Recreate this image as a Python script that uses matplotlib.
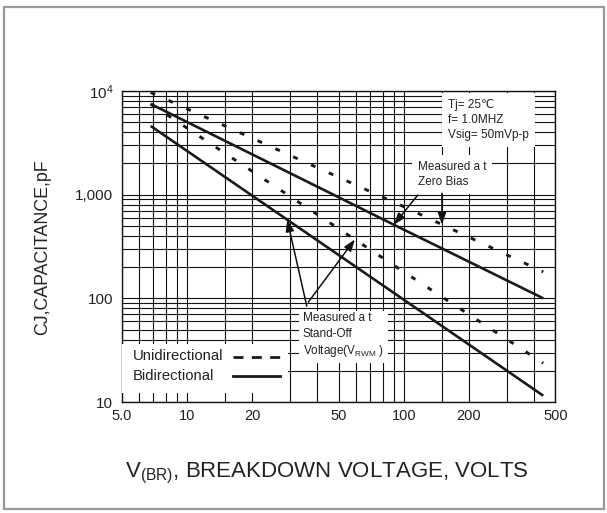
import numpy as np
import matplotlib
matplotlib.use("Agg")
import matplotlib.pyplot as plt
from matplotlib.lines import Line2D
from matplotlib.patches import Rectangle
from matplotlib.ticker import FixedLocator, FixedFormatter, NullFormatter

plt.rcParams['font.family'] = ['Liberation Sans', 'DejaVu Sans']
plt.rcParams['mathtext.fontset'] = 'custom'
plt.rcParams['mathtext.rm'] = 'Liberation Sans'
plt.rcParams['mathtext.default'] = 'regular'

# breakdown voltage (V) and capacitance (pF)
vbr = [6.8, 100, 440]
uni_zero = [9700, 766, 180]       # unidirectional, zero bias
uni_standoff = [7500, 180, 23.7]  # unidirectional, stand-off voltage
bi_zero = [7500, 460, 100]        # bidirectional, zero bias
bi_standoff = [4600, 97, 11.5]    # bidirectional, stand-off voltage

x_ticks = [5, 10, 20, 50, 100, 200, 500]
x_tick_labels = ['5.0', '10', '20', '50', '100', '200', '500']
x_minor = [6, 7, 8, 9, 15, 30, 40, 60, 70, 80, 90, 150, 300, 400]
y_ticks = [10, 100, 1000, 10000]
y_tick_labels = ['10', '100', '1,000', '$10^4$']
legend_labels = ['Unidirectional', 'Bidirectional']

fig = plt.figure(figsize=(6.07, 5.13), dpi=100)
ax = fig.add_axes([121.7 / 607, 1 - 402 / 513, 433.6 / 607, 311 / 513])

lw = 1.9
dash = (1.7, 5.0)
ink = '#1a1a1a'
ax.plot(vbr, bi_zero, color=ink, lw=lw, solid_capstyle='butt', zorder=3)
ax.plot(vbr, bi_standoff, color=ink, lw=lw, solid_capstyle='butt', zorder=3)
ax.plot(vbr, uni_zero, color=ink, lw=lw + 0.2, dashes=dash, zorder=3)
ax.plot(vbr, uni_standoff, color=ink, lw=lw + 0.2, dashes=dash, zorder=3)

ax.set_xscale('log')
ax.set_yscale('log')
ax.set_xlim(5, 500)
ax.set_ylim(10, 10000)

ax.xaxis.set_major_locator(FixedLocator(x_ticks))
ax.xaxis.set_major_formatter(FixedFormatter(x_tick_labels))
ax.xaxis.set_minor_locator(FixedLocator(x_minor))
ax.xaxis.set_minor_formatter(NullFormatter())
ax.yaxis.set_major_locator(FixedLocator(y_ticks))
ax.yaxis.set_major_formatter(FixedFormatter(y_tick_labels))
ax.yaxis.set_minor_formatter(NullFormatter())

ax.grid(True, which='both', color='#111111', lw=0.8)
ax.set_axisbelow(True)
ax.tick_params(which='both', length=0)
ax.tick_params(axis='x', labelsize=10.5, pad=5, colors='#222222')
ax.tick_params(axis='y', labelsize=11, pad=6, colors='#222222')
for s in ax.spines.values():
    s.set_color('#111111')
    s.set_linewidth(1.0)

# condition box
ax.text(0.7525, 0.975, 'Tj= 25℃\nf= 1.0MHZ\nVsig= 50mVp-p', transform=ax.transAxes,
        ha='left', va='top', fontsize=8.5, linespacing=1.35, color='#222222',
        bbox=dict(boxstyle='square,pad=0.5', fc='white', ec='none'), zorder=5)

# zero bias note
ax.text(0.683, 0.775, 'Measured a t\nZero Bias', transform=ax.transAxes,
        ha='left', va='top', fontsize=8.5, linespacing=1.35, color='#222222',
        bbox=dict(boxstyle='square,pad=0.5', fc='white', ec='none'), zorder=5)

# stand-off note
ax.text(0.418, 0.288, 'Measured a t\nStand-Off\nVoltage(V$_{RWM}$ )', transform=ax.transAxes,
        ha='left', va='top', fontsize=8.5, linespacing=1.35, color='#222222',
        bbox=dict(boxstyle='square,pad=0.3', fc='white', ec='none'), zorder=5)


def on_line(x, ys):
    return 10 ** np.interp(np.log10(x), np.log10(vbr), np.log10(ys))


arrow = dict(arrowstyle='-|>,head_length=0.7,head_width=0.25', color='#111111', lw=1.1,
             shrinkA=0, shrinkB=0)
ax.annotate('', xy=(90, on_line(90, bi_zero)), xytext=(116, 990), arrowprops=arrow, zorder=6)
ax.annotate('', xy=(150, on_line(150, uni_zero)), xytext=(150, 1030), arrowprops=arrow, zorder=6)
ax.annotate('', xy=(29, on_line(29, bi_standoff)), xytext=(35.7, 84), arrowprops=arrow, zorder=6)
ax.annotate('', xy=(59.5, on_line(59.5, uni_standoff)), xytext=(36.3, 92), arrowprops=arrow, zorder=6)

# legend box drawn by hand so the labels stay left aligned with keys on the right
ax.add_patch(Rectangle((0, 0.028), 0.383, 0.158, transform=ax.transAxes,
                       fc='white', ec='none', zorder=5))
ax.text(0.025, 0.149, legend_labels[0], transform=ax.transAxes, ha='left', va='center',
        fontsize=10.7, color='#222222', zorder=6)
ax.text(0.025, 0.085, legend_labels[1], transform=ax.transAxes, ha='left', va='center',
        fontsize=10.7, color='#222222', zorder=6)
ax.add_line(Line2D([0.257, 0.365], [0.146, 0.146], transform=ax.transAxes, color=ink,
                   lw=2.0, dashes=(3.6, 3.0), zorder=6))
ax.add_line(Line2D([0.257, 0.365], [0.082, 0.082], transform=ax.transAxes, color=ink,
                   lw=2.0, zorder=6))

fig.text(43 / 607, 1 - 247.5 / 513, 'CJ,CAPACITANCE,pF', rotation=90, ha='center', va='center',
         fontsize=12.8, color='#222222')
fig.text(326.5 / 607, 1 - 473 / 513, 'V$_{(BR)}$, BREAKDOWN VOLTAGE, VOLTS', ha='center',
         va='center', fontsize=16, color='#222222')

# grey frame round the whole picture
fig.patches.append(Rectangle((4 / 607, 4 / 513), 600 / 607, 502 / 513, transform=fig.transFigure,
                             fill=False, ec='#999999', lw=1.6))

fig.savefig('out.png', dpi=100)
